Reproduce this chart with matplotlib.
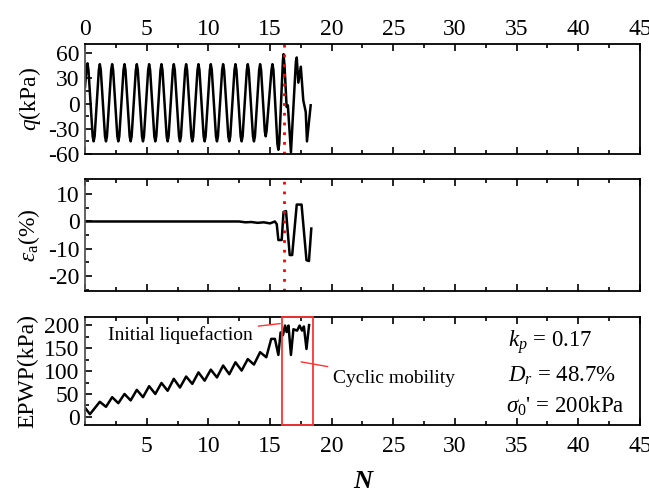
import matplotlib
matplotlib.use("Agg")
import matplotlib.pyplot as plt
from matplotlib.patches import Rectangle
from matplotlib.ticker import MultipleLocator

plt.rcParams["font.family"] = ["Liberation Serif", "DejaVu Serif"]
plt.rcParams["mathtext.fontset"] = "custom"
plt.rcParams["mathtext.rm"] = "Liberation Serif"
plt.rcParams["mathtext.it"] = "Liberation Serif:italic"
plt.rcParams["mathtext.bf"] = "Liberation Serif:bold"
plt.rcParams["axes.unicode_minus"] = False

# deviator stress q (kPa) vs cycle number N
q_n = [0, 0.12, 0.2, 0.28, 0.62, 0.7, 0.78,
       1.12, 1.2, 1.28, 1.62, 1.7, 1.78,
       2.12, 2.2, 2.28, 2.62, 2.7, 2.78,
       3.12, 3.2, 3.28, 3.62, 3.7, 3.78,
       4.12, 4.2, 4.28, 4.62, 4.7, 4.78,
       5.12, 5.2, 5.28, 5.62, 5.7, 5.78,
       6.12, 6.2, 6.28, 6.62, 6.7, 6.78,
       7.12, 7.2, 7.28, 7.62, 7.7, 7.78,
       8.12, 8.2, 8.28, 8.62, 8.7, 8.78,
       9.12, 9.2, 9.28, 9.62, 9.7, 9.78,
       10.12, 10.2, 10.28, 10.62, 10.7, 10.78,
       11.12, 11.2, 11.28, 11.62, 11.7, 11.78,
       12.12, 12.2, 12.28, 12.62, 12.7, 12.78,
       13.12, 13.2, 13.28, 13.62, 13.7, 13.78,
       14.12, 14.2, 14.28, 14.58, 14.65, 14.72,
       15.12, 15.2, 15.28, 15.6, 15.68, 15.75,
       16.05, 16.1, 16.18, 16.35, 16.45, 16.7,
       17.1, 17.17, 17.3, 17.5, 17.7, 17.9, 18.0, 18.3]
q_val = [20, 42, 48, 40, -39, -45, -39,
         40, 47, 40, -39, -45, -39,
         40, 47, 40, -39, -45, -39,
         40, 47, 40, -39, -45, -39,
         40, 47, 40, -39, -45, -39,
         40, 47, 40, -39, -45, -39,
         40, 47, 40, -39, -45, -39,
         40, 47, 40, -39, -45, -39,
         40, 47, 40, -39, -45, -39,
         40, 47, 40, -39, -45, -39,
         40, 47, 40, -39, -45, -39,
         40, 47, 40, -39, -45, -39,
         40, 47, 40, -39, -45, -39,
         40, 47, 40, -39, -45, -39,
         40, 47, 40, -33, -39, -33,
         40, 47, 40, -48, -55, -48,
         52, 59, 45, -4, -2, -58,
         50, 55, 25, 44, 4, -10, -45, -2]

# axial strain (%)
eps_n = [0, 12.5, 13.0, 13.5, 14.0, 14.5, 15.0, 15.4, 15.55, 15.68, 15.95,
         16.1, 16.3, 16.6, 16.8, 17.17, 17.56, 17.96, 18.16, 18.35]
eps_val = [0, 0, -0.3, -0.2, -0.5, -0.3, -0.7, 0.0, -1, -6.8, -6.8,
           3.5, 3.8, -12.3, -12.3, 6.2, 6.2, -14.2, -14.5, -2.6]

# excess pore water pressure (kPa)
p_n = [0, 0.4, 1.2, 1.7, 2.2, 2.7, 3.2, 3.7, 4.2, 4.7, 5.2, 5.7, 6.2, 6.7,
       7.2, 7.7, 8.2, 8.7, 9.2, 9.7, 10.2, 10.7, 11.2, 11.7, 12.2, 12.7, 13.2,
       13.7, 14.2, 14.7, 15.1, 15.4, 15.68, 15.86, 16.05, 16.22, 16.35, 16.5,
       16.7, 16.9, 17.2, 17.4, 17.6, 17.75, 17.96, 18.17]
p_val = [20, 6, 33, 22, 43, 30, 50, 36, 59, 43, 67, 50, 74, 57,
         83, 64, 88, 72, 97, 79, 103, 86, 112, 93, 119, 101, 126,
         114, 141, 130, 170, 170, 135, 184, 178, 199, 185, 199,
         135, 191, 188, 199, 188, 197, 148, 200]

n_liq = 16.1
box = (16.0, 18.45)

fig = plt.figure(figsize=(6.49, 4.95), dpi=100)
left, width = 0.131, 0.855
ax1 = fig.add_axes([left, 0.689, width, 0.222])
ax2 = fig.add_axes([left, 0.412, width, 0.226])
ax3 = fig.add_axes([left, 0.141, width, 0.218])

fs = 17
for ax in (ax1, ax2, ax3):
    ax.set_xlim(0, 45)
    ax.xaxis.set_major_locator(MultipleLocator(5))
    ax.xaxis.set_minor_locator(MultipleLocator(2.5))
    ax.tick_params(axis="both", which="both", direction="in", labelsize=fs,
                   top=True, right=False, pad=4)
    ax.tick_params(which="major", length=5, width=1.2)
    ax.tick_params(which="minor", length=3, width=1.2)
    for s in ax.spines.values():
        s.set_linewidth(1.3)
    ax.spines["left"].set_color("#555555")

ax1.plot(q_n, q_val, color="black", lw=1.8)
ax1.set_ylim(-60, 71)
ax1.set_yticks([-60, -30, 0, 30, 60])
ax1.yaxis.set_minor_locator(MultipleLocator(15))
ax1.tick_params(axis="x", labelbottom=False, labeltop=True, pad=3)
ax1.set_ylabel(r"$q$(kPa)", fontsize=fs, labelpad=4)
ax1.axvline(n_liq, color="red", ls=(0, (1, 2.5)), lw=2)

ax2.plot(eps_n, eps_val, color="black", lw=1.8)
ax2.set_ylim(-25.5, 15.5)
ax2.set_yticks([-20, -10, 0, 10])
ax2.yaxis.set_minor_locator(MultipleLocator(5))
ax2.tick_params(axis="x", labelbottom=False)
ax2.set_ylabel(r"$\varepsilon_{\rm a}$(%)", fontsize=fs, labelpad=4)
ax2.axvline(n_liq, color="red", ls=(0, (1, 2.5)), lw=2)

ax3.plot(p_n, p_val, color="black", lw=1.8)
ax3.set_ylim(-18, 217)
ax3.set_yticks([0, 50, 100, 150, 200])
ax3.yaxis.set_minor_locator(MultipleLocator(25))
ax3.set_xticks(range(5, 50, 5))
ax3.tick_params(axis="x", pad=8)
ax3.set_ylabel("EPWP(kPa)", fontsize=fs, labelpad=4)
ax3.set_xlabel("N", fontsize=19, fontstyle="italic", fontweight="bold",
               labelpad=9)
ax3.add_patch(Rectangle((box[0], 0), box[1] - box[0], 1,
                        transform=ax3.get_xaxis_transform(), zorder=5,
                        fill=False, edgecolor="#ff3333", lw=1.3, clip_on=False))
ax3.annotate("Initial liquefaction", xy=(16.05, 204), xytext=(13.6, 178),
             fontsize=14, ha="right", va="center",
             arrowprops=dict(arrowstyle="-", color="#ff3333", lw=1))
ax3.annotate("Cyclic mobility", xy=(17.3, 121), xytext=(20.1, 84),
             fontsize=14, ha="left", va="center",
             arrowprops=dict(arrowstyle="-", color="#ff3333", lw=1))
ax3.text(34.3, 164, r"$k_p$ = 0.17", fontsize=16.5, va="center")
ax3.text(34.3, 89, r"$D_r$ = 48.7%", fontsize=16.5, va="center")
ax3.text(34.1, 24, r"$\sigma_0$' = 200kPa", fontsize=16.5, va="center")

fig.align_ylabels([ax1, ax2, ax3])
fig.savefig("out.png", dpi=100)
